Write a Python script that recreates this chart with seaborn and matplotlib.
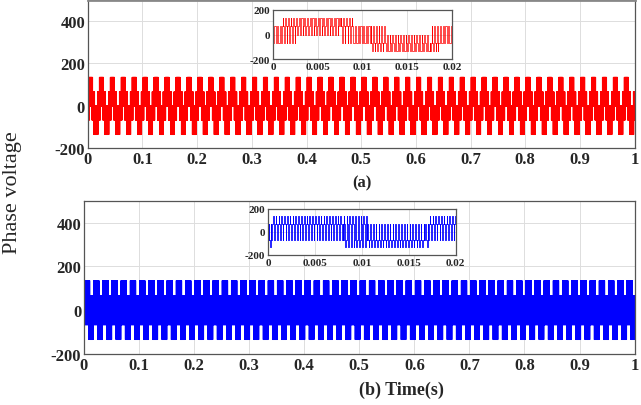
import matplotlib
matplotlib.use("Agg")
import matplotlib.pyplot as plt
import numpy as np
import seaborn as sns

# ---- data ----
# (a): one fundamental cycle, split into segments; in each segment the
# voltage steps through the listed levels once per switching period
a_period = 0.02
a_ts = 0.0003
a_seg_start = [0.0, 0.001, 0.0025, 0.0075, 0.009, 0.011, 0.0125, 0.0175, 0.0185]
a_seg_levels = [[-67, 67], [67, 135, 67, -67], [67, 135, 135, 0],
                [67, 135, 67, -67], [-67, 67], [-67, -135, -67, 67],
                [-67, -135, -135, 0], [-67, -135, -67, 67], [-67, 67]]

# (b): base toggles between +-67 with narrow pulses to +-135
b_period = 0.0167
b_ts = 0.0003
b_seg_start = [0.0, 0.0003, 0.008, 0.0105]
b_seg_levels = [[-67, 67, -67, -135], [67, -67, 67, 135],
                [-67, 135, 67, -135], [-67, 67, -67, -135]]

x_ticks = [0, 0.1, 0.2, 0.3, 0.4, 0.5, 0.6, 0.7, 0.8, 0.9, 1]
x_labels = ["0", "0.1", "0.2", "0.3", "0.4", "0.5", "0.6", "0.7", "0.8", "0.9", "1"]
y_ticks = [-200, 0, 200, 400]
ins_x_ticks = [0, 0.005, 0.01, 0.015, 0.02]
ins_x_labels = ["0", "0.005", "0.01", "0.015", "0.02"]
ins_y_ticks = [-200, 0, 200]


def build(period, ts, seg_start, seg_levels, t_end=1.0):
    t_all, v_all = [], []
    n_cyc = int(np.ceil(t_end / period))
    bounds = list(seg_start) + [period]
    for k in range(n_cyc):
        for s in range(len(seg_levels)):
            lv = seg_levels[s]
            dt = ts / len(lv)
            tt = np.arange(bounds[s], bounds[s + 1] - 1e-12, dt)
            vv = [lv[i % len(lv)] for i in range(len(tt))]
            t_all.extend(k * period + tt)
            v_all.extend(vv)
    t_all = np.array(t_all)
    v_all = np.array(v_all)
    keep = t_all <= t_end
    return t_all[keep], v_all[keep]


ta, va = build(a_period, a_ts, a_seg_start, a_seg_levels)
tb, vb = build(b_period, b_ts, b_seg_start, b_seg_levels)

sns.set_style("whitegrid")
plt.rcParams['font.family'] = ['Liberation Serif', 'DejaVu Serif']
plt.rcParams['xtick.direction'] = 'in'
plt.rcParams['ytick.direction'] = 'in'

fig = plt.figure(figsize=(6.41, 4.06), dpi=100)
ax_a = fig.add_axes([0.137, 0.632, 0.853, 0.366])
ax_b = fig.add_axes([0.131, 0.126, 0.859, 0.377])
ins_a = fig.add_axes([0.426, 0.852, 0.279, 0.121])
ins_b = fig.add_axes([0.418, 0.370, 0.293, 0.113])


def style(ax, xt, xl, yt, xlim, ylim, fs):
    ax.set_xlim(*xlim)
    ax.set_ylim(*ylim)
    ax.set_xticks(xt)
    ax.set_xticklabels(xl)
    ax.set_yticks(yt)
    ax.set_yticklabels([str(v) for v in yt])
    ax.grid(True, color='#dddddd', lw=0.7)
    for lab in ax.get_xticklabels() + ax.get_yticklabels():
        lab.set_fontweight('bold')
        lab.set_fontsize(fs)
    ax.tick_params(length=3, color='#444444', pad=2, top=False, right=False)
    for sp in ax.spines.values():
        sp.set_color('#555555')
        sp.set_linewidth(0.9)
    ax.set_xlabel("")
    ax.set_ylabel("")


sns.lineplot(x=ta, y=va, ax=ax_a, color='#ff0000', lw=0.6,
             drawstyle='steps-post', estimator=None)
sns.lineplot(x=ta, y=va, ax=ins_a, color='#ff0000', lw=0.5,
             drawstyle='steps-post', estimator=None)
sns.lineplot(x=tb, y=vb, ax=ax_b, color='#0000ff', lw=0.6,
             drawstyle='steps-post', estimator=None)
sns.lineplot(x=tb, y=vb, ax=ins_b, color='#0000ff', lw=0.6,
             drawstyle='steps-post', estimator=None)

style(ax_a, x_ticks, x_labels, y_ticks, (0, 1), (-200, 500), 12)
style(ax_b, x_ticks, x_labels, y_ticks, (0, 1), (-200, 500), 12)
style(ins_a, ins_x_ticks, ins_x_labels, ins_y_ticks, (0, 0.02), (-200, 200), 8)
style(ins_b, ins_x_ticks, ins_x_labels, ins_y_ticks, (0, 0.02), (-200, 200), 8)
ax_a.spines['top'].set_color('#888888')
ax_a.spines['top'].set_linewidth(2)

fig.text(0.565, 0.549, "(a)", fontsize=12, fontweight='bold', ha='center', va='center')
fig.text(0.626, 0.039, "(b) Time(s)", fontsize=13, fontweight='bold', ha='center', va='center')
fig.text(0.020, 0.525, "Phase voltage", fontsize=16, rotation=90, ha='center', va='center')

plt.savefig("out.png", dpi=100)
